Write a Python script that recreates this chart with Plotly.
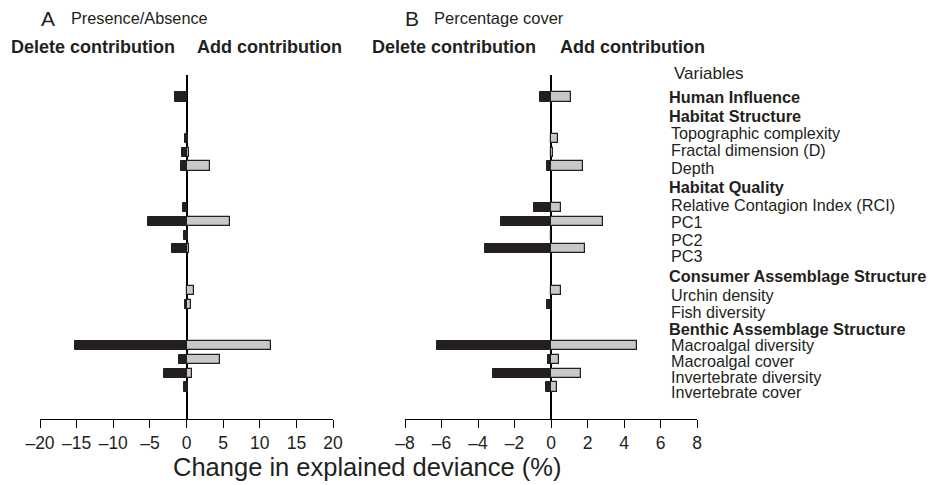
import plotly.graph_objects as go

# page body has an 8px margin: figure is sized/offset so that screen pixels match
OFF = 8
W, H = 937 - OFF, 485 - OFF

# ---- data ----
variables = ["Human Influence", "Topographic complexity", "Fractal dimension (D)", "Depth",
             "Relative Contagion Index (RCI)", "PC1", "PC2", "PC3",
             "Urchin density", "Fish diversity",
             "Macroalgal diversity", "Macroalgal cover", "Invertebrate diversity", "Invertebrate cover"]
presence_delete = [-1.6, -0.15, -0.6, -0.7, -0.45, -5.3, -0.35, -2.0, 0.0, -0.15, -15.2, -1.0, -3.1, -0.3]
presence_add = [0.0, 0.2, 0.35, 3.2, 0.05, 5.9, 0.15, 0.3, 1.05, 0.6, 11.6, 4.6, 0.77, 0.2]
cover_delete = [-0.6, 0.0, 0.0, -0.2, -0.95, -2.73, 0.0, -3.64, 0.0, -0.2, -6.25, -0.16, -3.19, -0.26]
cover_add = [1.08, 0.4, 0.1, 1.77, 0.53, 2.84, 0.0, 1.85, 0.57, 0.0, 4.69, 0.46, 1.65, 0.31]

ticks_a = [-20, -15, -10, -5, 0, 5, 10, 15, 20]
ticks_b = [-8, -6, -4, -2, 0, 2, 4, 6, 8]

# category order top->bottom with spacer slots between groups
category_order = ["Human Influence", "_s1", "_s2",
                  "Topographic complexity", "Fractal dimension (D)", "Depth", "_s3", "_s4",
                  "Relative Contagion Index (RCI)", "PC1", "PC2", "PC3", "_s5", "_s6",
                  "Urchin density", "Fish diversity", "_s7", "_s8",
                  "Macroalgal diversity", "Macroalgal cover", "Invertebrate diversity", "Invertebrate cover"]

# right-hand label block: (text, bold, y pixel)
label_block = [("Variables", False, 74), ("Human Influence", True, 97), ("Habitat Structure", True, 116),
               ("Topographic complexity", False, 133), ("Fractal dimension (D)", False, 150),
               ("Depth", False, 168), ("Habitat Quality", True, 187),
               ("Relative Contagion Index (RCI)", False, 205), ("PC1", False, 222), ("PC2", False, 240),
               ("PC3", False, 256), ("Consumer Assemblage Structure", True, 276),
               ("Urchin density", False, 295), ("Fish diversity", False, 312),
               ("Benthic Assemblage Structure", True, 329), ("Macroalgal diversity", False, 345),
               ("Macroalgal cover", False, 361), ("Invertebrate diversity", False, 377),
               ("Invertebrate cover", False, 392)]

DARK = "#231f20"
GRAY = "#c8c8c8"
FONT = "Liberation Sans, Arial, sans-serif"

def fx(p):
    return (p - OFF) / W

def fy(p):
    return 1 - (p - OFF) / H

fig = go.Figure()
bw = 0.66
for xa, dele, add in [("x", presence_delete, presence_add), ("x2", cover_delete, cover_add)]:
    fig.add_trace(go.Bar(y=variables, x=dele, orientation="h", xaxis=xa, yaxis="y",
                         marker=dict(color=DARK, line=dict(color=DARK, width=1)), width=bw,
                         showlegend=False))
    fig.add_trace(go.Bar(y=variables, x=add, orientation="h", xaxis=xa, yaxis="y",
                         marker=dict(color=GRAY, line=dict(color=DARK, width=1.2)), width=bw,
                         showlegend=False))

plot_top, plot_bot = 75, 419

def xaxis_cfg(lo, hi, ticks, px0, px1):
    return dict(domain=[fx(px0), fx(px1)], range=[lo, hi], tickvals=ticks,
                ticktext=[("–" + str(-t)) if t < 0 else str(t) for t in ticks],
                showline=True, linecolor="black", linewidth=1, ticks="outside", ticklen=8,
                tickcolor="black", tickwidth=1, showgrid=False, zeroline=True,
                zerolinecolor="black", zerolinewidth=1.5, anchor="y", automargin=False,
                tickfont=dict(family=FONT, size=17.5, color="#231f20"), fixedrange=True)

fig.update_layout(
    width=W, height=H, margin=dict(l=0, r=0, t=0, b=0, pad=0, autoexpand=False),
    paper_bgcolor="white", plot_bgcolor="white",
    barmode="overlay", bargap=0, showlegend=False,
    xaxis=xaxis_cfg(-20, 20, ticks_a, 40, 333),
    xaxis2=xaxis_cfg(-8, 8, ticks_b, 405, 697),
    yaxis=dict(domain=[fy(plot_bot), fy(plot_top)], type="category",
               categoryorder="array", categoryarray=category_order,
               range=[23.32, -1.59], showticklabels=False, showgrid=False, automargin=False,
               zeroline=False, showline=False, ticks="", fixedrange=True),
    font=dict(family=FONT, color="#231f20"),
)

ann = []
def add_text(text, px, py, size, bold=False, anchor="left"):
    ann.append(dict(text=("<b>%s</b>" % text) if bold else text, x=fx(px), y=fy(py),
                    xref="paper", yref="paper", xanchor=anchor, yanchor="middle",
                    showarrow=False, borderpad=0,
                    font=dict(family=FONT, size=size, color="#231f20")))

add_text("A", 40, 18, 21)
add_text("Presence/Absence", 70, 18, 16.3)
add_text("B", 404, 18, 21)
add_text("Percentage cover", 433, 18, 16.5)
add_text("Delete contribution", 10, 47, 18, bold=True)
add_text("Add contribution", 196, 47, 18, bold=True)
add_text("Delete contribution", 371, 47, 18, bold=True)
add_text("Add contribution", 559, 47, 18, bold=True)
for text, bold, py in label_block:
    if text == "Variables":
        add_text(text, 673, py, 17)
    else:
        add_text(text, 668 if bold else 670, py, 16.3 if bold else 16.2, bold=bold)
add_text("Change in explained deviance (%)", 367, 467, 25.5, anchor="center")
fig.update_layout(annotations=ann)

fig.write_html("out.html")
